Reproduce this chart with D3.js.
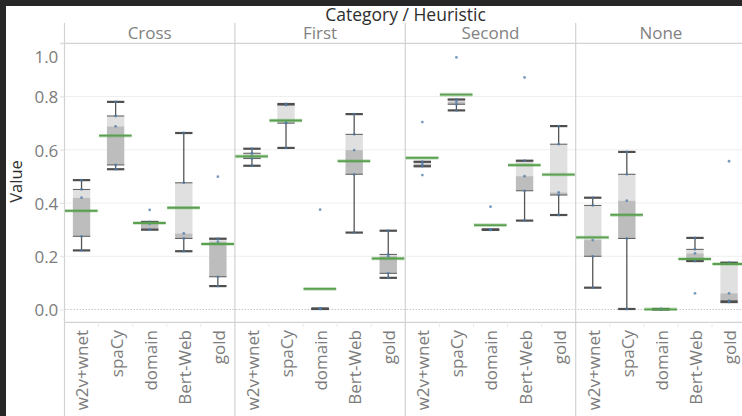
<!DOCTYPE html>
<html>
<head>
<meta charset="utf-8">
<script src="https://cdn.jsdelivr.net/npm/d3@7"></script>
<style>
  html, body { margin: 0; padding: 0; background: #ffffff; }
  svg { display: block; }
  text { font-family: "Open Sans", "DejaVu Sans", sans-serif; }
</style>
</head>
<body>
<div id="chart"></div>
<script>
// ---------------- data ----------------
const heuristics = ["Cross", "First", "Second", "None"];
const methods = ["w2v+wnet", "spaCy", "domain", "Bert-Web", "gold"];
const yTicks = [0.0, 0.2, 0.4, 0.6, 0.8, 1.0];

// five observed values per method, in the order of `methods`
const crossValues = [
  [0.486, 0.451, 0.420, 0.275, 0.222],
  [0.780, 0.727, 0.688, 0.543, 0.527],
  [0.374, 0.329, 0.322, 0.300, 0.300],
  [0.663, 0.476, 0.286, 0.267, 0.219],
  [0.499, 0.266, 0.255, 0.123, 0.088]
];
const firstValues = [
  [0.604, 0.587, 0.578, 0.567, 0.540],
  [0.772, 0.768, 0.703, 0.700, 0.607],
  [0.375, 0.004, 0.003, 0.003, 0.002],
  [0.734, 0.658, 0.599, 0.508, 0.289],
  [0.296, 0.207, 0.200, 0.136, 0.119]
];
const secondValues = [
  [0.704, 0.555, 0.547, 0.538, 0.505],
  [0.947, 0.789, 0.781, 0.771, 0.748],
  [0.386, 0.301, 0.300, 0.299, 0.299],
  [0.872, 0.559, 0.501, 0.446, 0.334],
  [0.689, 0.621, 0.440, 0.430, 0.355]
];
const noneValues = [
  [0.420, 0.391, 0.261, 0.200, 0.082],
  [0.592, 0.508, 0.409, 0.267, 0.002],
  [0.002, 0.001, 0.001, 0.000, 0.000],
  [0.269, 0.226, 0.211, 0.182, 0.061],
  [0.557, 0.176, 0.061, 0.033, 0.028]
];
const valuesByHeuristic = {
  "Cross": crossValues, "First": firstValues,
  "Second": secondValues, "None": noneValues
};

// ---------------- layout ----------------
const W = 742, H = 416;
const left = 64.5, panelW = 170.4;
const plotTop = 43.3, plotBottom = 322.3, headerTop = 23;

const svg = d3.select("#chart").append("svg")
  .attr("width", W).attr("height", H);

svg.append("rect").attr("width", W).attr("height", H).attr("fill", "#ffffff");

const y = d3.scaleLinear().domain([-0.048, 1.0]).range([plotBottom, plotTop]);
const xPanel = d3.scaleBand().domain(heuristics).range([left, left + heuristics.length * panelW]);
const xMethod = d3.scaleBand().domain(methods).range([0, panelW]);

// gridlines
svg.append("g").selectAll("line")
  .data(yTicks.filter(d => d > 0 && d < 1))
  .join("line")
  .attr("x1", 60).attr("x2", W)
  .attr("y1", d => y(d)).attr("y2", d => y(d))
  .attr("stroke", "#efefef").attr("stroke-width", 1);

// zero line (dotted)
svg.append("line")
  .attr("x1", left).attr("x2", W)
  .attr("y1", y(0)).attr("y2", y(0))
  .attr("stroke", "#c8c8c8").attr("stroke-width", 1)
  .attr("stroke-dasharray", "1.5,1.5");

// header lines
svg.append("line").attr("x1", 60).attr("x2", W)
  .attr("y1", plotTop).attr("y2", plotTop)
  .attr("stroke", "#d2d2d2").attr("stroke-width", 1.2);
svg.append("line").attr("x1", left).attr("x2", W)
  .attr("y1", plotBottom).attr("y2", plotBottom)
  .attr("stroke", "#d2d2d2").attr("stroke-width", 1.2);

// small separators between column labels
heuristics.forEach(h => {
  methods.slice(1).forEach(m => {
    const xx = xPanel(h) + xMethod(m);
    svg.append("line").attr("x1", xx).attr("x2", xx)
      .attr("y1", plotBottom).attr("y2", plotBottom + 5)
      .attr("stroke", "#ececec").attr("stroke-width", 1);
  });
});

// panel vertical borders
svg.append("g").selectAll("line")
  .data(heuristics)
  .join("line")
  .attr("x1", d => xPanel(d)).attr("x2", d => xPanel(d))
  .attr("y1", headerTop).attr("y2", H)
  .attr("stroke", "#d2d2d2").attr("stroke-width", 1.2);

// y axis
const yAxis = svg.append("g")
  .attr("transform", `translate(${left},0)`)
  .call(d3.axisLeft(y).tickValues(yTicks).tickFormat(d3.format(".1f")).tickSize(4.5).tickPadding(1.7));
yAxis.select(".domain").remove();
yAxis.selectAll(".tick line").attr("stroke", "#e4e4e4");
yAxis.selectAll(".tick text")
  .attr("fill", "#7c7c7c")
  .style("font-size", "17px")
  .style("font-family", "'Open Sans', sans-serif")
  .attr("y", d => d === 1 ? 14 : 1);

// panel header labels
svg.append("g").selectAll("text")
  .data(heuristics)
  .join("text")
  .attr("x", d => xPanel(d) + panelW / 2)
  .attr("y", 33)
  .attr("dy", "0.35em")
  .attr("text-anchor", "middle")
  .attr("fill", "#828282")
  .style("font-size", "17px")
  .text(d => d);

// title
svg.append("text")
  .attr("x", 405.5).attr("y", 20.8)
  .attr("text-anchor", "middle")
  .attr("fill", "#2e2e2e")
  .style("font-size", "17.5px")
  .text("Category / Heuristic");

// y axis title
svg.append("text")
  .attr("transform", "translate(21.5,181.5) rotate(-90)")
  .attr("text-anchor", "middle")
  .attr("fill", "#2e2e2e")
  .style("font-size", "16.5px")
  .text("Value");

// x labels
heuristics.forEach(h => {
  svg.append("g").selectAll("text")
    .data(methods)
    .join("text")
    .attr("transform", m => `translate(${xPanel(h) + xMethod(m) + xMethod.bandwidth() / 2 + 1},330) rotate(-90)`)
    .attr("dy", "0.35em")
    .attr("text-anchor", "end")
    .attr("fill", "#7c7c7c")
    .style("font-size", "17px")
    .text(m => m);
});

// box plots
const boxW = xMethod.bandwidth() * 0.51;
heuristics.forEach(h => {
  const vals = valuesByHeuristic[h];
  methods.forEach((m, i) => {
    const v = vals[i].slice().sort(d3.ascending);
    const q1 = d3.quantile(v, 0.25), med = d3.quantile(v, 0.5), q3 = d3.quantile(v, 0.75);
    const iqr = q3 - q1;
    const lo = d3.min(v.filter(d => d >= q1 - 1.5 * iqr));
    const hi = d3.max(v.filter(d => d <= q3 + 1.5 * iqr));
    const avg = d3.mean(v);
    const colL = xPanel(h) + xMethod(m);
    const cx = colL + xMethod.bandwidth() / 2;
    const g = svg.append("g");

    // whiskers
    g.append("line").attr("x1", cx).attr("x2", cx).attr("y1", y(q3)).attr("y2", y(hi))
      .attr("stroke", "#555").attr("stroke-width", 1.3);
    g.append("line").attr("x1", cx).attr("x2", cx).attr("y1", y(q1)).attr("y2", y(lo))
      .attr("stroke", "#555").attr("stroke-width", 1.3);

    // box
    g.append("rect").attr("x", cx - boxW / 2).attr("width", boxW)
      .attr("y", y(q3)).attr("height", Math.max(0, y(med) - y(q3)))
      .attr("fill", "#e0e0e0");
    g.append("rect").attr("x", cx - boxW / 2).attr("width", boxW)
      .attr("y", y(med)).attr("height", Math.max(0, y(q1) - y(med)))
      .attr("fill", "#bdbdbd");
    [q1, q3].forEach(q => {
      g.append("line").attr("x1", cx - boxW / 2).attr("x2", cx + boxW / 2)
        .attr("y1", y(q)).attr("y2", y(q))
        .attr("stroke", "#5a5a5a").attr("stroke-width", 1);
    });

    // caps
    [lo, hi].forEach(c => {
      g.append("line").attr("x1", cx - boxW / 2).attr("x2", cx + boxW / 2)
        .attr("y1", y(c)).attr("y2", y(c))
        .attr("stroke", "#4f4f4f").attr("stroke-width", 2.2);
    });

    // points
    g.selectAll("circle").data(v).join("circle")
      .attr("cx", cx).attr("cy", d => y(d)).attr("r", 1.4)
      .attr("fill", "#4e79a7").attr("opacity", 0.75);

    // average reference line
    g.append("line").attr("x1", colL + 0.5).attr("x2", colL + xMethod.bandwidth() - 1)
      .attr("y1", y(avg)).attr("y2", y(avg))
      .attr("stroke", "#59a14f").attr("stroke-opacity", 0.35).attr("stroke-width", 3.6);
    g.append("line").attr("x1", colL + 0.5).attr("x2", colL + xMethod.bandwidth() - 1)
      .attr("y1", y(avg)).attr("y2", y(avg))
      .attr("stroke", "#59a14f").attr("stroke-width", 1.8);
  });
});

// dark frame (top and left)
svg.append("rect").attr("x", 0).attr("y", 0).attr("width", W).attr("height", 6).attr("fill", "#272727");
svg.append("rect").attr("x", 0).attr("y", 0).attr("width", 6).attr("height", H).attr("fill", "#272727");
</script>
</body>
</html>
